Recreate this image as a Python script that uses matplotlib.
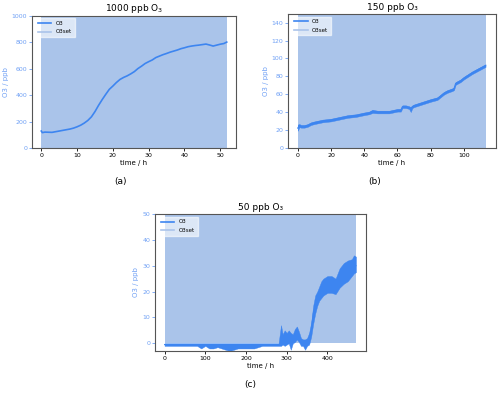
import matplotlib.pyplot as plt
from matplotlib.lines import Line2D

# Panel (a): 1000 ppb set point
t_a = [0, 0.3, 1, 2, 3, 4, 5, 6, 7, 8, 9, 10, 11, 12, 13, 14, 15, 16, 17, 18,
       19, 20, 21, 22, 23, 24, 25, 26, 27, 28, 29, 30, 31, 32, 33, 34, 35, 36,
       37, 38, 39, 40, 41, 42, 43, 44, 45, 46, 47, 48, 49, 50, 51, 51.8]
o3_a = [128, 116, 120, 119, 118, 123, 128, 133, 138, 143, 150, 160, 172, 188,
        208, 235, 275, 322, 365, 405, 443, 468, 495, 518, 533, 545, 560, 577,
        600, 618, 638, 652, 665, 683, 694, 705, 714, 724, 732, 740, 750, 757,
        765, 770, 774, 777, 781, 785, 778, 770, 777, 784, 789, 800]
set_a = 1000

# Panel (b): 150 ppb set point (noisy, given as low / high envelope)
t_b = [0, 1, 2, 4, 6, 8, 10, 15, 20, 25, 30, 35, 40, 43, 45, 48, 50, 55, 60,
       62, 63, 65, 67, 68, 69, 70, 75, 80, 84, 86, 88, 90, 93, 94, 95, 98,
       100, 105, 110, 113]
o3_b = [22, 25, 24, 24, 25, 27, 28, 30, 31, 33, 35, 36, 38, 39, 41, 40, 40,
        40, 42, 42, 46, 46, 45, 44, 46, 47, 50, 53, 55, 58, 61, 63, 65, 66,
        72, 75, 78, 84, 89, 92]
lo_b = [19, 23, 22.5, 22.5, 23.5, 25.5, 26.5, 28.5, 29.5, 31.5, 33.5, 34.5,
        36.5, 37.5, 39, 38.5, 38.5, 38.5, 40.5, 40.5, 44.5, 44.5, 43.5, 40,
        44.5, 45.5, 48.5, 51.5, 53.5, 56.5, 59.5, 61.5, 63.5, 64.5, 70.5, 73.5,
        76.5, 82.5, 87.5, 90.5]
hi_b = [26, 26.5, 25.5, 25.5, 26.5, 28.5, 29.5, 31.5, 32.5, 34.5, 36.5, 37.5,
        39.5, 40.5, 42.5, 41.5, 41.5, 41.5, 43.5, 43.5, 47.5, 47.5, 46.5, 45.5,
        47.5, 48.5, 51.5, 54.5, 56.5, 59.5, 62.5, 64.5, 66.5, 67.5, 73.5, 76.5,
        79.5, 85.5, 90.5, 93.5]
set_b = 150

# Panel (c): 50 ppb set point (noisy, low / high envelope)
t_c = [0, 20, 40, 60, 80, 90, 100, 110, 120, 130, 140, 150, 160, 170, 180,
       200, 220, 240, 260, 280, 286, 290, 295, 300, 305, 310, 315, 320, 325,
       330, 335, 340, 345, 350, 355, 360, 365, 370, 375, 380, 385, 390, 400,
       410, 420, 430, 440, 450, 460, 465, 470]
o3_c = [-0.5, -0.5, -0.5, -0.5, -0.5, -0.8, -0.6, -0.8, -0.9, -0.7, -0.8,
        -1.0, -1.2, -1.0, -0.8, -0.8, -0.8, -0.6, -0.5, -0.5, -0.3, 1.5, 2.0,
        1.5, 2.5, 2.0, 1.5, 3.0, 4.0, 2.5, 0.5, 0.5, 0.0, 0.5, 2.0, 5.0,
        11.0, 15.0, 17.0, 19.0, 20.5, 21.5, 22.5, 23.0, 22.0, 25.0, 26.5,
        27.5, 29.0, 30.0, 30.0]
lo_c = [-1, -1, -1, -1, -1, -2, -1, -2, -2, -1.5, -2, -2.5, -3, -2.5, -2,
        -2, -2, -1, -1, -1, -1, -0.5, -1, -0.5, 0, -2.5, 0, 0.5, 1.5, 0.5,
        -1, -1, -2.5, -1, -0.5, 2.5, 7.5, 11.5, 14.5, 16.5, 17.5, 18.5, 19.5,
        19.5, 19, 21.5, 23, 24, 26, 27, 27.5]
hi_c = [0, 0, 0, 0, 0, 0, 0, 0, 0, 0, 0, 0, 0, 0, 0, 0, 0, 0, 0, 0, 7, 3.5,
        5, 4, 5, 4, 3.5, 5.5, 6.5, 4.5, 2, 1.5, 1.5, 2, 4, 8, 14.5, 18.5, 20,
        22, 24, 25, 26, 26, 25, 29, 31, 32, 32.5, 34, 33.5]
set_c = 50

line_col = "#3d85f0"
fill_col = "#aac4ea"
tick_col = "#6fa0f5"

fig = plt.figure(figsize=(5.0, 3.94), dpi=100)
ax_a = fig.add_axes([0.064, 0.6244, 0.408, 0.336])
ax_b = fig.add_axes([0.5766, 0.625, 0.415, 0.340])
ax_c = fig.add_axes([0.31, 0.109, 0.421, 0.348])

handles = [Line2D([], [], color=line_col, lw=1.2),
           Line2D([], [], color=fill_col, lw=1.2)]


def style(ax, title, ylim):
    ax.set_title(title, fontsize=6.5, pad=3)
    ax.set_xlabel("time / h", fontsize=5, labelpad=1.5)
    ax.set_ylabel("O3 / ppb", fontsize=5, color=tick_col, labelpad=2)
    ax.set_ylim(*ylim)
    ax.tick_params(axis="both", labelsize=4.5, length=2, pad=1.5, width=0.6)
    ax.tick_params(axis="y", colors=tick_col)
    for s in ax.spines.values():
        s.set_color("#555555")
        s.set_linewidth(0.8)
    ax.legend(handles, ["O3", "O3set"], loc="upper left", fontsize=4,
              frameon=True, fancybox=False, framealpha=0.6, edgecolor="white",
              handlelength=2.5, borderpad=0.5, labelspacing=0.6)


# (a)
ax_a.fill_between([t_a[0], t_a[-1]], 0, set_a, color=fill_col, lw=0)
ax_a.plot(t_a, o3_a, color=line_col, lw=1.2)
style(ax_a, "1000 ppb O$_3$", (0, 1000))
ax_a.set_yticks([0, 200, 400, 600, 800, 1000])

# (b)
ax_b.fill_between([t_b[0], 113.5], 0, set_b, color=fill_col, lw=0)
ax_b.fill_between(t_b, lo_b, hi_b, color=line_col, lw=0.3)
ax_b.plot(t_b, o3_b, color=line_col, lw=0.8)
style(ax_b, "150 ppb O₃", (0, 150))
ax_b.set_yticks([0, 20, 40, 60, 80, 100, 120, 140])
ax_b.set_xticks([0, 20, 40, 60, 80, 100])

# (c)
ax_c.fill_between([t_c[0], t_c[-1]], 0, set_c, color=fill_col, lw=0)
ax_c.fill_between(t_c, lo_c, hi_c, color=line_col, lw=0.3)
ax_c.plot(t_c, o3_c, color=line_col, lw=0.8)
style(ax_c, "50 ppb O₃", (-3, 50))
ax_c.set_yticks([0, 10, 20, 30, 40, 50])
ax_c.set_xticks([0, 100, 200, 300, 400])

fig.text(0.241, 0.539, "(a)", fontsize=6.5, ha="center", va="center")
fig.text(0.75, 0.539, "(b)", fontsize=6.5, ha="center", va="center")
fig.text(0.5, 0.023, "(c)", fontsize=6.5, ha="center", va="center")

fig.savefig("out.png", dpi=100)
